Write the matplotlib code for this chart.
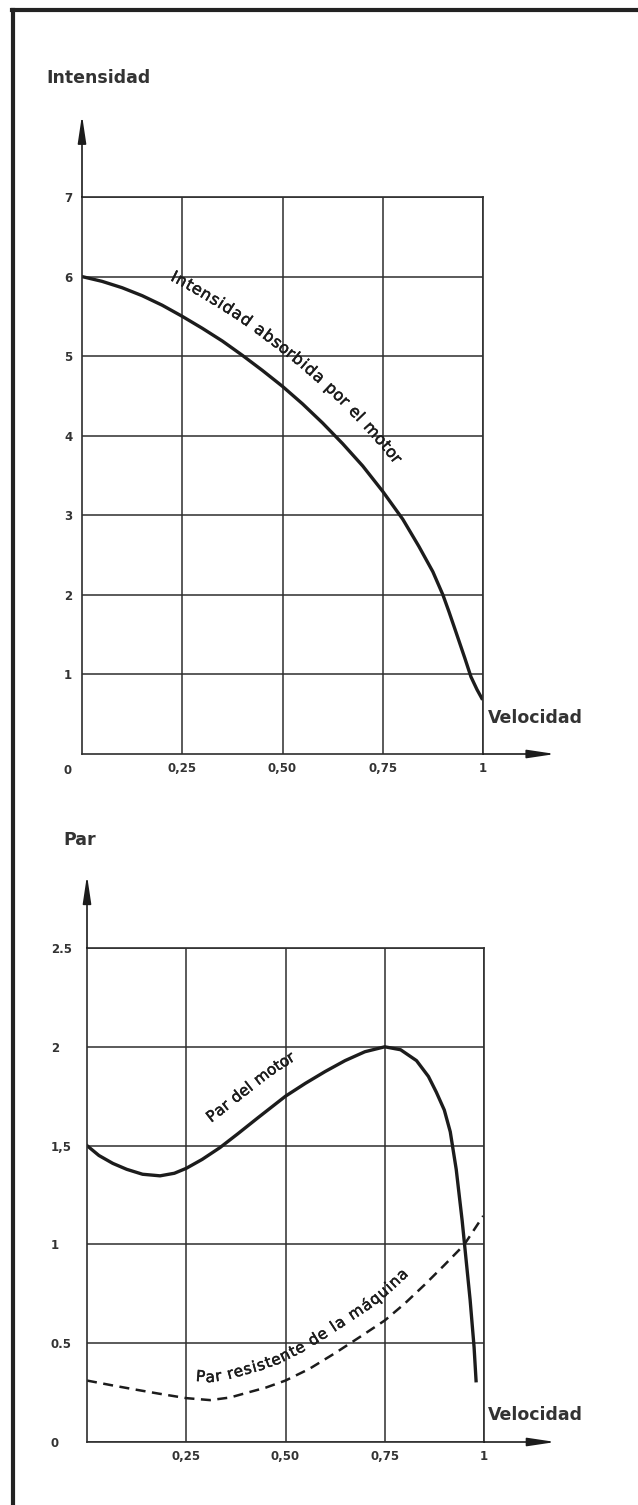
import numpy as np
import matplotlib
matplotlib.use('Agg')
import matplotlib.pyplot as plt
import matplotlib.patheffects as pe
from matplotlib.font_manager import FontProperties
from matplotlib.lines import Line2D
from matplotlib.transforms import IdentityTransform

# --- data (speed as fraction of synchronous speed) ---
speed_i = [0, 0.05, 0.1, 0.15, 0.2, 0.25, 0.3, 0.35, 0.4, 0.45, 0.5, 0.55, 0.6, 0.65,
           0.7, 0.75, 0.8, 0.84, 0.875, 0.9, 0.915, 0.93, 0.955, 0.97, 0.985, 0.997]
current = [6.0, 5.94, 5.86, 5.76, 5.64, 5.5, 5.35, 5.19, 5.01, 4.82, 4.62, 4.40, 4.16, 3.90,
           3.62, 3.30, 2.95, 2.61, 2.29, 2.0, 1.79, 1.57, 1.20, 0.97, 0.81, 0.70]

speed_t = [0, 0.03, 0.065, 0.1, 0.14, 0.184, 0.22, 0.25, 0.29, 0.335, 0.38, 0.43, 0.5, 0.55,
           0.6, 0.65, 0.7, 0.75, 0.79, 0.83, 0.86, 0.88, 0.9, 0.915, 0.93, 0.945, 0.955,
           0.965, 0.975, 0.98]
motor_torque = [1.5, 1.45, 1.41, 1.38, 1.355, 1.347, 1.36, 1.385, 1.43, 1.49, 1.56, 1.64, 1.75,
                1.815, 1.875, 1.93, 1.975, 2.0, 1.985, 1.93, 1.85, 1.77, 1.68, 1.57, 1.38,
                1.12, 0.92, 0.72, 0.48, 0.31]

speed_load = [0, 0.06, 0.12, 0.18, 0.25, 0.31, 0.36, 0.408, 0.45, 0.5, 0.56, 0.625, 0.69,
              0.75, 0.8, 0.85, 0.9, 0.95, 0.998]
load_torque = [0.311, 0.288, 0.266, 0.245, 0.222, 0.212, 0.225, 0.252, 0.275, 0.311, 0.37,
               0.45, 0.535, 0.615, 0.70, 0.795, 0.895, 0.998, 1.144]

x_ticks = [0.25, 0.5, 0.75, 1]
x_labels = ['0,25', '0,50', '0,75', '1']
i_ticks = [1, 2, 3, 4, 5, 6, 7]
i_labels = ['1', '2', '3', '4', '5', '6', '7']
t_ticks = [0, 0.5, 1, 1.5, 2, 2.5]
t_labels = ['0', '0.5', '1', '1,5', '2', '2.5']

ink = '#1c1c1c'
grid_ink = '#2e2e2e'
label_ink = '#333333'

W, H = 638, 1505
fig = plt.figure(figsize=(W / 100, H / 100), dpi=100)
fig.patch.set_facecolor('white')


def px_axes(left, top, right, bottom):
    return fig.add_axes([left / W, 1 - bottom / H, (right - left) / W, (bottom - top) / H])


ax1 = px_axes(82, 197, 483, 754)
ax2 = px_axes(87, 948, 484, 1442)

ax1.set_ylim(0, 7)
ax2.set_ylim(0, 2.5)
ax1.set_yticks(i_ticks, i_labels)
ax2.set_yticks(t_ticks, t_labels)

for ax in (ax1, ax2):
    ax.set_xlim(0, 1)
    ax.set_xticks(x_ticks, x_labels)
    ax.grid(True, color=grid_ink, lw=1.1)
    for s in ax.spines.values():
        s.set_color(grid_ink)
        s.set_linewidth(1.2)
    ax.tick_params(length=0, labelsize=8.5, labelcolor=label_ink, pad=6)
    for lab in ax.get_xticklabels():
        lab.set_fontweight('bold')
    arrow = dict(arrowstyle='-|>,head_length=1.2,head_width=0.18', color=ink, lw=1.2,
                 mutation_scale=14, shrinkA=0, shrinkB=0)
    ax.annotate('', xy=(0, 1.147), xytext=(0, 1), xycoords='axes fraction',
                arrowprops=arrow, annotation_clip=False)
    ax.annotate('', xy=(1.18, 0), xytext=(1, 0), xycoords='axes fraction',
                arrowprops=arrow, annotation_clip=False)

ax1.tick_params(axis='y', pad=10)
for lab in ax1.get_yticklabels():
    lab.set_ha('center')
    lab.set_fontweight('bold')
ax1.annotate('0', xy=(0, 0), xytext=(-14, -16), textcoords='offset pixels',
             ha='center', va='center', fontsize=8.5, fontweight='bold', color=label_ink)

ax2.tick_params(axis='y', pad=26)
for lab in ax2.get_yticklabels():
    lab.set_ha('left')
    lab.set_fontweight('bold')

ax1.plot(speed_i, current, color=ink, lw=2.4, solid_joinstyle='round')
ax2.plot(speed_t, motor_torque, color=ink, lw=2.4, solid_joinstyle='round')
ax2.plot(speed_load, load_torque, color=ink, lw=1.8, ls=(0, (4, 2.6)))

# axis titles
title_kw = dict(fontsize=12.5, fontweight='bold', color=label_ink, va='center', ha='left')
fig.text(46 / W, 1 - 78 / H, 'Intensidad', **title_kw)
fig.text(63 / W, 1 - 840 / H, 'Par', **title_kw)
fig.text(488 / W, 1 - 718 / H, 'Velocidad', **title_kw)
fig.text(488 / W, 1 - 1415 / H, 'Velocidad', **title_kw)


def label_along(ax, xs, ys, text, v_start, offset, size, track=0.0):
    """Write text character by character along a curve, offset to its left side."""
    r = fig.canvas.get_renderer()
    prop = FontProperties(family='DejaVu Sans', size=size)
    pts = ax.transData.transform(np.column_stack([xs, ys]))
    d = np.diff(pts, axis=0)
    seg = np.hypot(d[:, 0], d[:, 1])
    tang = d / seg[:, None]
    nseg = np.column_stack([-tang[:, 1], tang[:, 0]])
    nrm = np.vstack([nseg[:1], (nseg[:-1] + nseg[1:]) / 2, nseg[-1:]])
    nrm /= np.hypot(nrm[:, 0], nrm[:, 1])[:, None]
    path = pts + offset * nrm
    s = np.concatenate([[0], np.cumsum(np.hypot(*np.diff(path, axis=0).T))])
    base = r.get_text_width_height_descent('xx', prop, ismath=False)[0]
    pos = np.interp(v_start, xs, s)
    for ch in text:
        cw = r.get_text_width_height_descent('x' + ch + 'x', prop, ismath=False)[0] - base
        mid = pos + cw / 2
        x = np.interp(mid, s, path[:, 0])
        y = np.interp(mid, s, path[:, 1])
        a, b = mid - cw / 2 - 3, mid + cw / 2 + 3
        ang = np.degrees(np.arctan2(np.interp(b, s, path[:, 1]) - np.interp(a, s, path[:, 1]),
                                    np.interp(b, s, path[:, 0]) - np.interp(a, s, path[:, 0])))
        if ch.strip():
            fig.text(x, y, ch, transform=IdentityTransform(), fontproperties=prop,
                     rotation=ang, rotation_mode='anchor', ha='center', va='baseline',
                     color=ink, path_effects=[pe.withStroke(linewidth=0.35, foreground=ink)])
        pos += cw + track


fig.canvas.draw()
label_along(ax1, speed_i, current, 'Intensidad absorbida por el motor', 0.19, 26, 11.5, track=0.8)
label_along(ax2, speed_t, motor_torque, 'Par del motor', 0.35, 25, 11, track=0.4)
label_along(ax2, speed_load, load_torque, 'Par resistente de la máquina', 0.27, 18, 11, track=1.0)

# page frame (left and top rules of the printed figure)
frame_kw = dict(color='#222222', lw=3, transform=fig.transFigure)
fig.add_artist(Line2D([13 / W, 13 / W], [0, 1 - 10 / H], **frame_kw))
fig.add_artist(Line2D([12 / W, 1], [1 - 10 / H, 1 - 10 / H], **frame_kw))

fig.savefig('out.png', dpi=100)
